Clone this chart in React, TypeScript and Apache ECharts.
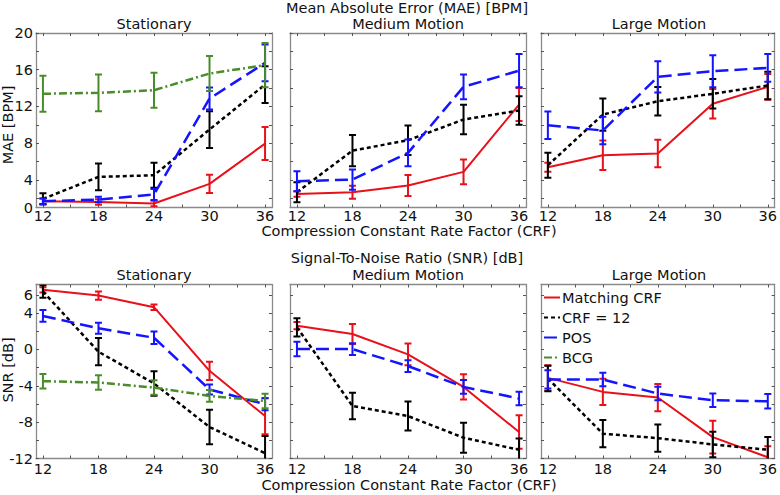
import React, { useEffect, useRef } from 'react';
import * as echarts from 'echarts';

// ---------------- data ----------------
const crf = [12, 18, 24, 30, 36];
const crfMinorTicks = [12, 15, 18, 21, 24, 27, 30, 33, 36];
const panelTitles = ['Stationary', 'Medium Motion', 'Large Motion'];
const methodNames = ['Matching CRF', 'CRF = 12', 'POS', 'BCG'];

// MAE [BPM]  (per panel: Stationary, Medium, Large)
const maeMatching = [
  [1.68, 1.6, 1.43, 3.57, 7.96],
  [2.48, 2.66, 3.39, 4.88, 12.21],
  [5.38, 6.69, 6.87, 12.29, 14.14],
];
const maeMatchingErr = [
  [0.3, 0.3, 0.3, 1.0, 1.8],
  [0.3, 0.7, 1.15, 1.35, 1.8],
  [0.5, 1.6, 1.5, 1.6, 1.4],
];
const maeCrf12 = [
  [1.94, 4.33, 4.51, 9.49, 14.39],
  [2.66, 7.2, 8.32, 10.58, 11.56],
  [5.6, 11.12, 12.57, 13.38, 14.28],
];
const maeCrf12Err = [
  [0.6, 1.45, 1.35, 2.0, 2.0],
  [1.1, 1.7, 1.6, 1.6, 1.55],
  [1.35, 1.75, 1.55, 1.6, 1.5],
];
const maePos = [
  [1.68, 1.86, 2.41, 12.86, 16.75],
  [3.86, 4.04, 6.95, 14.14, 15.9],
  [9.96, 9.38, 15.23, 15.84, 16.2],
];
const maePosErr = [
  [0.3, 0.3, 0.6, 1.2, 2.0],
  [1.1, 1.1, 1.45, 1.35, 1.8],
  [1.5, 1.5, 1.7, 1.75, 1.5],
];
const maeBcg = [13.38, 13.49, 13.77, 15.59, 16.5];
const maeBcgErr = [1.96, 2.0, 1.9, 1.9, 2.4];

// SNR [dB]
const snrMatching = [
  [6.56, 5.93, 4.65, -2.35, -7.33],
  [2.62, 1.7, -0.54, -4.12, -9.09],
  [-3.13, -4.67, -5.29, -9.65, -11.86],
];
const snrMatchingErr = [
  [0.3, 0.45, 0.3, 1.0, 2.0],
  [0.4, 1.1, 1.2, 1.4, 1.85],
  [1.4, 1.45, 1.5, 1.8, 1.2],
];
const snrCrf12 = [
  [6.38, -0.25, -3.74, -8.54, -11.41],
  [2.44, -6.22, -7.33, -9.71, -11.04],
  [-3.19, -9.27, -9.76, -10.45, -11.04],
];
const snrCrf12Err = [
  [0.7, 1.5, 1.35, 1.9, 1.9],
  [1.0, 1.45, 1.6, 1.65, 1.25],
  [1.4, 1.5, 1.5, 1.4, 1.4],
];
const snrPos = [
  [3.69, 2.33, 1.29, -4.4, -6.03],
  [0.04, 0.04, -1.83, -4.12, -5.4],
  [-3.3, -3.3, -4.85, -5.59, -5.7],
];
const snrPosErr = [
  [0.65, 0.6, 0.7, 0.55, 0.65],
  [0.8, 0.65, 0.65, 0.75, 0.75],
  [1.0, 0.75, 0.75, 0.75, 0.8],
];
const snrBcg = [-3.49, -3.64, -4.19, -5.11, -5.67];
const snrBcgErr = [0.8, 0.8, 0.8, 0.65, 0.8];

// axis ticks / labels
const maeTickLabels = [1, 4, 8, 12, 16, 20]; // bottom edge shows "0"
const maeTicks = [2, 4, 6, 8, 10, 12, 14, 16, 18, 20];
const snrTickLabels = [-12, -8, -4, 0, 4, 6];
const snrTicks = [-12, -10, -8, -6, -4, -2, 0, 2, 4, 6];

// ---------------- styles ----------------
const FONT = "'DejaVu Sans', sans-serif";
const FS = 14.5;
const TEXT = '#111';
const methodStyles = [
  { color: '#e8101a', width: 2, type: 'solid' as any },
  { color: '#000000', width: 2.5, type: [4, 3] as any },
  { color: '#1414ff', width: 2.5, type: [13, 6] as any },
  { color: '#4a8c2a', width: 2.5, type: [8, 3, 2, 3] as any },
];
const gridLefts = [36, 290, 541];
const gridWidth = 236;

function buildOption() {
  const grid: any[] = [];
  const xAxis: any[] = [];
  const yAxis: any[] = [];
  const series: any[] = [];

  const rows = [
    {
      top: 33,
      height: 174.5,
      min: 1,
      max: 20,
      labels: maeTickLabels,
      ticks: maeTicks,
      fmt: (v: number) => (v < 2 ? '0' : String(v)),
      xMargin: 1,
      data: [maeMatching, maeCrf12, maePos, [maeBcg]],
      err: [maeMatchingErr, maeCrf12Err, maePosErr, [maeBcgErr]],
    },
    {
      top: 284.5,
      height: 174,
      min: -12,
      max: 7.15,
      labels: snrTickLabels,
      ticks: snrTicks,
      fmt: (v: number) => String(v),
      xMargin: 3,
      data: [snrMatching, snrCrf12, snrPos, [snrBcg]],
      err: [snrMatchingErr, snrCrf12Err, snrPosErr, [snrBcgErr]],
    },
  ];

  const axisLine = { show: true, onZero: false, lineStyle: { color: '#8a8a8a', width: 1.3 } };
  const tickStyle = { color: '#555', width: 1 };
  const labelStyle = { fontSize: FS, color: TEXT, fontFamily: FONT };

  rows.forEach((row, r) => {
    for (let p = 0; p < 3; p++) {
      const g = r * 3 + p;
      grid.push({ left: gridLefts[p], top: row.top, width: gridWidth, height: row.height, show: false });
      const xTick = { show: true, inside: true, length: 3, customValues: crfMinorTicks, lineStyle: tickStyle };
      const yTick = { show: true, inside: true, length: 3, customValues: row.ticks, lineStyle: tickStyle };
      xAxis.push({
        type: 'value', gridIndex: g, position: 'bottom', min: 11.25, max: 36.75,
        axisLine, axisTick: xTick, splitLine: { show: false },
        axisLabel: { ...labelStyle, customValues: crf, margin: row.xMargin, formatter: (v: number) => String(v) },
      });
      xAxis.push({
        type: 'value', gridIndex: g, position: 'top', min: 11.25, max: 36.75,
        axisLine, axisTick: xTick, splitLine: { show: false }, axisLabel: { show: false },
      });
      yAxis.push({
        type: 'value', gridIndex: g, position: 'left', min: row.min, max: row.max,
        axisLine, axisTick: yTick, splitLine: { show: false },
        axisLabel: p === 0
          ? { ...labelStyle, customValues: row.labels, margin: 3, formatter: row.fmt }
          : { show: false },
      });
      yAxis.push({
        type: 'value', gridIndex: g, position: 'right', min: row.min, max: row.max,
        axisLine, axisTick: yTick, splitLine: { show: false }, axisLabel: { show: false },
      });

      methodNames.forEach((name, m) => {
        const set = row.data[m];
        const errSet = row.err[m];
        if (!set[p]) return;
        const vals = set[p];
        const errs = errSet[p];
        const st = methodStyles[m];
        series.push({
          type: 'line',
          name,
          xAxisIndex: 2 * g,
          yAxisIndex: 2 * g,
          data: crf.map((x, i) => [x, vals[i]]),
          symbol: 'none',
          showSymbol: false,
          lineStyle: { color: st.color, width: st.width, type: st.type },
          itemStyle: { color: st.color },
          z: 2 + m,
        });
        series.push({
          type: 'custom',
          name: name + ' error',
          xAxisIndex: 2 * g,
          yAxisIndex: 2 * g,
          clip: true,
          z: 2 + m,
          data: crf.map((x, i) => [x, vals[i] - errs[i], vals[i] + errs[i]]),
          encode: { x: 0, y: [1, 2] },
          renderItem: (params: any, api: any) => {
            const x = api.value(0);
            const lo = api.coord([x, api.value(1)]);
            const hi = api.coord([x, api.value(2)]);
            const style = { stroke: st.color, lineWidth: 2 };
            const cw = 3.5;
            return {
              type: 'group',
              children: [
                { type: 'line', shape: { x1: lo[0], y1: lo[1], x2: hi[0], y2: hi[1] }, style },
                { type: 'line', shape: { x1: lo[0] - cw, y1: lo[1], x2: lo[0] + cw, y2: lo[1] }, style },
                { type: 'line', shape: { x1: hi[0] - cw, y1: hi[1], x2: hi[0] + cw, y2: hi[1] }, style },
              ],
            };
          },
        });
      });
    }
  });

  const txt = (text: string, x: number, y: number, extra: any = {}) => ({
    type: 'text',
    x,
    y,
    ...extra,
    style: {
      text,
      fill: TEXT,
      fontSize: FS,
      fontFamily: FONT,
      align: 'center',
      verticalAlign: 'middle',
      textAlign: 'center',
      textVerticalAlign: 'middle',
    },
  });

  const graphic: any[] = [
    txt('Mean Absolute Error (MAE) [BPM]', 407, 8),
    txt('Signal-To-Noise Ratio (SNR) [dB]', 407, 258),
    txt('Compression Constant Rate Factor (CRF)', 409, 231),
    txt('Compression Constant Rate Factor (CRF)', 409, 485),
    txt('MAE [BPM]', 8, 125, { rotation: Math.PI / 2 }),
    txt('SNR [dB]', 8, 370, { rotation: Math.PI / 2 }),
  ];
  panelTitles.forEach((t, p) => {
    const cx = gridLefts[p] + gridWidth / 2;
    graphic.push(txt(t, cx, 24));
    graphic.push(txt(t, cx, 275));
  });

  return {
    animation: false,
    backgroundColor: '#ffffff',
    grid,
    xAxis,
    yAxis,
    series,
    graphic,
    legend: {
      data: methodNames,
      orient: 'vertical',
      left: 543,
      top: 290,
      padding: 0,
      itemWidth: 16,
      itemHeight: 14,
      itemGap: 5,
      selectedMode: false,
      itemStyle: { opacity: 0, borderWidth: 0 },
      textStyle: { fontSize: FS, fontFamily: FONT, color: TEXT, lineHeight: 14, padding: [0, 0, 0, -3] },
    },
  };
}

export default function App() {
  const ref = useRef<HTMLDivElement>(null);
  useEffect(() => {
    if (!ref.current) return;
    const chart = echarts.init(ref.current, undefined, { renderer: 'svg' });
    chart.setOption(buildOption() as any);
    return () => chart.dispose();
  }, []);
  return (
    <div
      ref={ref}
      style={{ position: 'absolute', left: 0, top: 0, width: 780, height: 495, background: '#fff' }}
    />
  );
}
